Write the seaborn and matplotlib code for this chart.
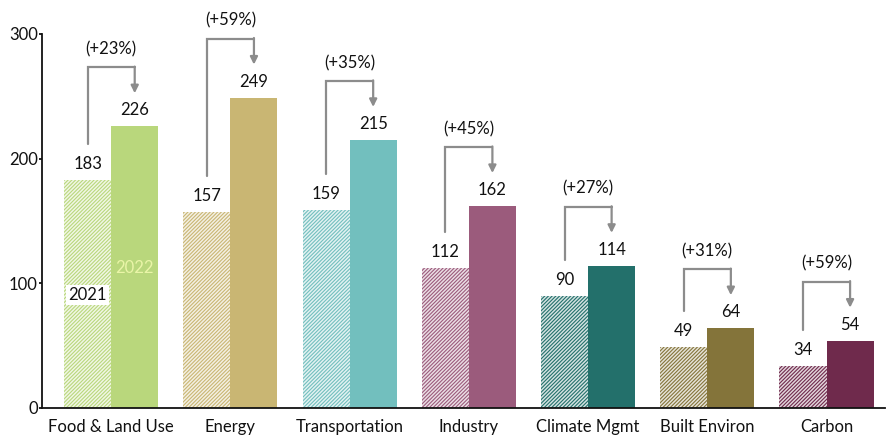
import matplotlib
matplotlib.use("Agg")
import matplotlib.pyplot as plt
import matplotlib.colors as mcolors
import seaborn as sns
import pandas as pd
import numpy as np

# Capital raised by climate sector, 2021 vs 2022
categories = ["Food & Land Use", "Energy", "Transportation", "Industry",
              "Climate Mgmt", "Built Environ", "Carbon"]
values_2021 = [183, 157, 159, 112, 90, 49, 34]
values_2022 = [226, 249, 215, 162, 114, 64, 54]
growth_labels = ["(+23%)", "(+59%)", "(+35%)", "(+45%)", "(+27%)", "(+31%)", "(+59%)"]
y_ticks = [0, 100, 200, 300]

sector_colors = ["#b9d77c", "#c9b673", "#72bfbe", "#9b5b7c",
                 "#23706b", "#84743a", "#6f2a4c"]

sns.set_theme(style="white")
plt.rcParams["font.family"] = ["Lato", "DejaVu Sans"]
plt.rcParams["hatch.linewidth"] = 0.8

df = pd.DataFrame({
    "category": categories * 2,
    "year": ["2021"] * len(categories) + ["2022"] * len(categories),
    "value": values_2021 + values_2022,
})

fig = plt.figure(figsize=(8.92, 4.37), dpi=100)
ax = fig.add_axes([0.0471, 0.0664, 0.945, 0.8558])

sns.barplot(data=df, x="category", y="value", hue="year", width=0.79, gap=0,
            saturation=1, legend=False, errorbar=None, ax=ax)

def tint(c, amount):
    r = np.array(mcolors.to_rgb(c))
    return tuple(r + (1 - r) * amount)

bars21 = list(ax.containers[0])
bars22 = list(ax.containers[1])
for i, (b1, b2) in enumerate(zip(bars21, bars22)):
    col = sector_colors[i]
    b1.set_facecolor(tint(col, 0.8))
    b1.set_edgecolor(col)
    b1.set_hatch("/////////")
    b1.set_linewidth(0)
    b2.set_facecolor(col)
    b2.set_edgecolor("none")
    b2.set_linewidth(0)

ax.set_ylim(0, 300)
ax.set_xlim(-0.58, 6.49)
ax.set_yticks(y_ticks)
ax.set_yticklabels([str(t) for t in y_ticks])
ax.set_xlabel("")
ax.set_ylabel("")
for s in ["top", "right"]:
    ax.spines[s].set_visible(False)
for s in ["left", "bottom"]:
    ax.spines[s].set_color("#111111")
    ax.spines[s].set_linewidth(1.3)
ax.tick_params(axis="y", which="both", left=True, length=2.5, width=1.3,
               color="#111111", labelsize=12, labelcolor="#111111", pad=0.5)
ax.tick_params(axis="x", bottom=False, labelsize=12, labelcolor="#111111", pad=2)

# data units per pixel on the y axis
u = 300 / (0.8558 * 437)
txt = "#111111"
line_col = "#8c8c8c"
fs = 12

for i, (b1, b2) in enumerate(zip(bars21, bars22)):
    x1 = b1.get_x() + b1.get_width() / 2
    x2 = b2.get_x() + b2.get_width() / 2
    v1, v2 = values_2021[i], values_2022[i]
    ax.text(x1, v1 + 16 * u, str(v1), ha="center", va="center", fontsize=fs, color=txt)
    ax.text(x2, v2 + 16 * u, str(v2), ha="center", va="center", fontsize=fs, color=txt)

    top = v2 + 59 * u
    start = v1 + 36 * u
    tip = v2 + 33 * u
    ax.plot([x1, x1, x2], [start, top, top], color=line_col, lw=1.6,
            solid_joinstyle="miter", clip_on=False)
    ax.annotate("", xy=(x2, tip), xytext=(x2, top + 0.6 * u),
                arrowprops=dict(arrowstyle="-|>", color=line_col, lw=1.6,
                                mutation_scale=11, shrinkA=0, shrinkB=0),
                annotation_clip=False)
    ax.text((x1 + x2) / 2, top + 18 * u, growth_labels[i], ha="center",
            va="center", fontsize=fs, color=txt, clip_on=False)

# year labels inside the first pair of bars
fx1 = bars21[0].get_x() + bars21[0].get_width() / 2
fx2 = bars22[0].get_x() + bars22[0].get_width() / 2
ax.text(fx1, 91, "2021", ha="center", va="center", fontsize=fs, color=txt,
        bbox=dict(boxstyle="square,pad=0.12", fc="white", ec="none"))
ax.text(fx2, 112, "2022", ha="center", va="center", fontsize=fs, color="#eaf5a8")

fig.savefig("out.png", dpi=100)
